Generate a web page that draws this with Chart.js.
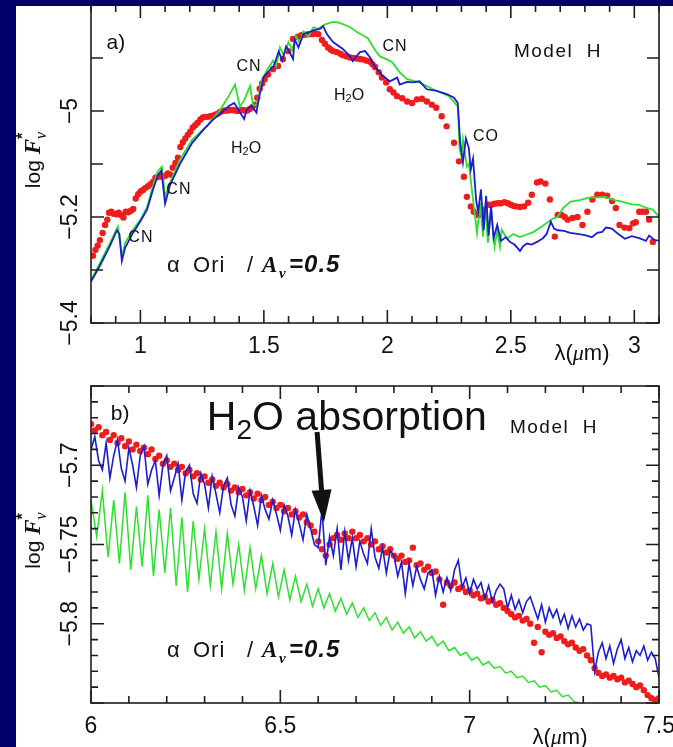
<!DOCTYPE html>
<html>
<head>
<meta charset="utf-8">
<script src="https://cdn.jsdelivr.net/npm/chart.js@4"></script>
<style>
    html, body { margin: 0; padding: 0; }
    body { width: 673px; height: 747px; background: #000068; position: relative; overflow: hidden; }
    #sheet { position: absolute; left: 16px; top: 5px; width: 657px; height: 742px; background: #fff; }
    .panel { position: absolute; left: 16px; width: 657px; }
    #wrapA { top: 0; height: 370px; }
    #wrapB { top: 370px; height: 377px; }
    #band { position: absolute; left: 0; top: 0; width: 673px; height: 6px; background: #000068; z-index: 5; }
</style>
</head>
<body>
<div id="sheet"></div>
<div class="panel" id="wrapA"><canvas id="chartA"></canvas></div>
<div class="panel" id="wrapB"><canvas id="chartB"></canvas></div>
<div id="band"></div>
<script>
// ---------- panel a) 0.8 - 3.1 micron ----------
const aGreenX = [0.80, 0.836, 0.877, 0.909, 0.925, 0.938, 0.97, 1.00, 1.027, 1.05, 1.07, 1.087, 1.10, 1.12, 1.16, 1.21, 1.27, 1.32, 1.36, 1.383,
    1.403, 1.42, 1.444, 1.456, 1.472, 1.49, 1.51, 1.537, 1.55, 1.565, 1.58, 1.60, 1.615, 1.63, 1.645, 1.66, 1.68, 1.70, 1.72, 1.75,
    1.78, 1.80, 1.82, 1.85, 1.88, 1.92, 1.95, 1.97, 2.00, 2.02, 2.05, 2.08, 2.13, 2.185, 2.25, 2.286, 2.292, 2.30, 2.306, 2.322,
    2.33, 2.347, 2.363, 2.376, 2.387, 2.397, 2.407, 2.42, 2.434, 2.445, 2.456, 2.463, 2.484, 2.51, 2.537, 2.565, 2.593, 2.634, 2.67, 2.69,
    2.711, 2.743, 2.78, 2.812, 2.85, 2.88, 2.92, 2.95, 2.99, 3.019, 3.05, 3.075, 3.10];
const aGreenY = [-5.319, -5.287, -5.249, -5.218, -5.275, -5.249, -5.224, -5.205, -5.181, -5.143, -5.114, -5.105, -5.162, -5.135, -5.092, -5.054, -5.028, -5.000, -4.970, -4.950,
    -4.992, -4.980, -4.953, -4.988, -4.990, -4.946, -4.925, -4.905, -4.915, -4.880, -4.895, -4.870, -4.885, -4.858, -4.872, -4.850, -4.860, -4.842, -4.845, -4.836,
    -4.832, -4.833, -4.836, -4.842, -4.852, -4.862, -4.885, -4.897, -4.903, -4.908, -4.927, -4.940, -4.946, -4.959, -4.972, -4.992, -5.070, -5.086, -5.054, -5.105,
    -5.100, -5.167, -5.230, -5.173, -5.237, -5.180, -5.249, -5.185, -5.256, -5.225, -5.256, -5.224, -5.241, -5.232, -5.238, -5.233, -5.228, -5.215, -5.203, -5.200,
    -5.183, -5.171, -5.168, -5.164, -5.163, -5.162, -5.168, -5.171, -5.176, -5.177, -5.183, -5.186, -5.200];

const aBlueX = [0.80, 0.836, 0.877, 0.905, 0.915, 0.925, 0.938, 0.97, 1.00, 1.027, 1.05, 1.07, 1.085, 1.10, 1.12, 1.16, 1.21, 1.25, 1.29, 1.33,
    1.36, 1.38, 1.40, 1.42, 1.43, 1.45, 1.47, 1.48, 1.50, 1.52, 1.54, 1.56, 1.575, 1.59, 1.60, 1.618, 1.625, 1.64, 1.66, 1.68,
    1.70, 1.727, 1.74, 1.755, 1.78, 1.82, 1.849, 1.86, 1.889, 1.91, 1.93, 1.95, 1.982, 2.01, 2.04, 2.05, 2.08, 2.104, 2.13, 2.16,
    2.20, 2.24, 2.27, 2.285, 2.295, 2.306, 2.318, 2.33, 2.338, 2.347, 2.36, 2.368, 2.379, 2.39, 2.40, 2.41, 2.42, 2.43, 2.445, 2.46,
    2.48, 2.496, 2.515, 2.537, 2.55, 2.565, 2.585, 2.606, 2.63, 2.645, 2.662, 2.675, 2.69, 2.716, 2.74, 2.77, 2.80, 2.828, 2.85, 2.87,
    2.885, 2.909, 2.935, 2.962, 2.99, 3.02, 3.047, 3.06, 3.08, 3.10];
const aBlueY = [-5.322, -5.292, -5.254, -5.225, -5.232, -5.283, -5.258, -5.230, -5.208, -5.186, -5.150, -5.122, -5.112, -5.175, -5.140, -5.100, -5.060, -5.038, -5.018, -5.002,
    -4.990, -4.985, -5.000, -5.015, -4.998, -4.990, -5.003, -4.975, -4.935, -4.925, -4.915, -4.888, -4.905, -4.878, -4.885, -4.902, -4.865, -4.880, -4.855, -4.852,
    -4.848, -4.845, -4.840, -4.855, -4.870, -4.883, -4.897, -4.906, -4.889, -4.887, -4.899, -4.917, -4.934, -4.944, -4.937, -4.950, -4.945, -4.946, -4.944, -4.959,
    -4.962, -4.968, -4.975, -4.985, -5.060, -5.097, -5.052, -5.070, -5.110, -5.090, -5.170, -5.190, -5.148, -5.225, -5.160, -5.235, -5.180, -5.240, -5.215, -5.245,
    -5.238, -5.247, -5.252, -5.264, -5.255, -5.250, -5.252, -5.247, -5.240, -5.232, -5.209, -5.222, -5.225, -5.226, -5.230, -5.232, -5.234, -5.238, -5.230, -5.228,
    -5.220, -5.222, -5.232, -5.241, -5.236, -5.240, -5.245, -5.235, -5.243, -5.245];

// observed alpha Ori points
const aRedX = [0.808, 0.818, 0.827, 0.836, 0.847, 0.857, 0.866, 0.873, 0.882, 0.892, 0.902, 0.912, 0.921, 0.931, 0.941, 0.951, 0.961, 0.971, 0.981, 0.991,
    1.001, 1.011, 1.021, 1.031, 1.041, 1.051, 1.061, 1.071, 1.081, 1.091, 1.101, 1.111, 1.121, 1.131, 1.142, 1.152, 1.162, 1.172, 1.182, 1.192,
    1.202, 1.212, 1.222, 1.232, 1.243, 1.253, 1.263, 1.273, 1.283, 1.293, 1.303, 1.313, 1.323, 1.333, 1.343, 1.353, 1.363, 1.373, 1.383, 1.393,
    1.403, 1.413, 1.423, 1.433, 1.443, 1.453, 1.463, 1.473, 1.483, 1.493, 1.503, 1.517, 1.537, 1.557, 1.577, 1.598, 1.618, 1.638, 1.652, 1.666,
    1.680, 1.695, 1.708, 1.72, 1.735, 1.747, 1.76, 1.77, 1.78, 1.796, 1.81, 1.82, 1.835, 1.849, 1.862, 1.876, 1.89, 1.903, 1.916, 1.93,
    1.94, 1.95, 1.965, 1.978, 1.995, 2.01, 2.025, 2.039, 2.06, 2.08, 2.10, 2.12, 2.14, 2.16, 2.18, 2.198, 2.22, 2.24, 2.27, 2.29,
    2.31, 2.322, 2.338, 2.35, 2.366, 2.38, 2.394, 2.407, 2.42, 2.434, 2.448, 2.46, 2.474, 2.488, 2.50, 2.51, 2.52, 2.537, 2.553, 2.57,
    2.585, 2.606, 2.62, 2.64, 2.658, 2.678, 2.69, 2.705, 2.718, 2.73, 2.75, 2.77, 2.79, 2.81, 2.83, 2.85, 2.87, 2.89, 2.91, 2.925,
    2.94, 2.96, 2.98, 2.995, 3.006, 3.02, 3.033, 3.047, 3.06, 3.075];
const aRedY = [-5.273, -5.262, -5.254, -5.244, -5.230, -5.215, -5.205, -5.192, -5.190, -5.194, -5.195, -5.192, -5.196, -5.201, -5.190, -5.191, -5.188, -5.185, -5.165, -5.157,
    -5.152, -5.149, -5.145, -5.142, -5.138, -5.134, -5.126, -5.124, -5.123, -5.124, -5.122, -5.118, -5.120, -5.107, -5.098, -5.088, -5.068, -5.059, -5.052, -5.045,
    -5.039, -5.031, -5.027, -5.022, -5.016, -5.012, -5.011, -5.011, -5.010, -5.009, -5.007, -5.005, -5.002, -5.000, -4.999, -4.999, -4.998, -4.998, -4.999, -5.000,
    -4.999, -4.998, -4.999, -4.999, -4.996, -4.993, -4.988, -4.975, -4.958, -4.948, -4.940, -4.931, -4.921, -4.915, -4.902, -4.887, -4.864, -4.860, -4.857, -4.856,
    -4.855, -4.855, -4.854, -4.855, -4.866, -4.873, -4.880, -4.884, -4.887, -4.889, -4.892, -4.895, -4.897, -4.899, -4.900, -4.901, -4.902, -4.903, -4.905, -4.907,
    -4.912, -4.917, -4.927, -4.937, -4.946, -4.959, -4.965, -4.972, -4.976, -4.982, -4.985, -4.978, -4.977, -4.982, -4.988, -4.994, -5.010, -5.029, -5.060, -5.095,
    -5.124, -5.162, -5.180, -5.190, -5.196, -5.196, -5.186, -5.177, -5.177, -5.175, -5.174, -5.174, -5.172, -5.174, -5.177, -5.179, -5.180, -5.181, -5.180, -5.173,
    -5.158, -5.135, -5.133, -5.137, -5.167, -5.237, -5.196, -5.196, -5.200, -5.205, -5.202, -5.200, -5.215, -5.190, -5.167, -5.158, -5.158, -5.160, -5.170, -5.183,
    -5.215, -5.220, -5.221, -5.212, -5.210, -5.190, -5.190, -5.190, -5.205, -5.247];

// ---------- panel b) 6 - 7.5 micron, sampled every 0.01 ----------
const bStart = 6.0, bStep = 0.01;
const bRedY = [
    -5.674, -5.678, -5.676, -5.681, -5.679, -5.684, -5.681, -5.686, -5.683, -5.688,
    -5.685, -5.690, -5.687, -5.691, -5.689, -5.693, -5.690, -5.696, -5.694, -5.699,
    -5.697, -5.701, -5.699, -5.703, -5.701, -5.705, -5.703, -5.707, -5.705, -5.709,
    -5.707, -5.711, -5.709, -5.713, -5.711, -5.714, -5.712, -5.716, -5.714, -5.717,
    -5.715, -5.719, -5.717, -5.721, -5.718, -5.722, -5.720, -5.725, -5.723, -5.727,
    -5.725, -5.729, -5.727, -5.731, -5.729, -5.733, -5.731, -5.736, -5.738, -5.742,
    -5.748, -5.753, -5.757, -5.750, -5.746, -5.744, -5.747, -5.743, -5.746, -5.742,
    -5.746, -5.744, -5.748, -5.746, -5.750, -5.748, -5.753, -5.751, -5.755, -5.753,
    -5.757, -5.759, -5.757, -5.761, -5.760, -5.752, -5.763, -5.762, -5.766, -5.764,
    -5.768, -5.767, -5.772, -5.788, -5.774, -5.776, -5.774, -5.778, -5.777, -5.780,
    -5.779, -5.782, -5.781, -5.784, -5.783, -5.786, -5.785, -5.788, -5.787, -5.790,
    -5.792, -5.794, -5.796, -5.795, -5.798, -5.797, -5.800, -5.812, -5.802, -5.818,
    -5.805, -5.807, -5.806, -5.809, -5.808, -5.811, -5.813, -5.812, -5.815, -5.817,
    -5.816, -5.820, -5.823, -5.828, -5.831, -5.833, -5.832, -5.834, -5.833, -5.835,
    -5.834, -5.837, -5.836, -5.838, -5.840, -5.839, -5.842, -5.845, -5.847, -5.848,
    -5.847];
const bBlueY = [
    -5.690, -5.682, -5.697, -5.703, -5.686, -5.708, -5.694, -5.684, -5.702, -5.710,
    -5.689, -5.700, -5.714, -5.694, -5.688, -5.712, -5.703, -5.697, -5.719, -5.700,
    -5.694, -5.716, -5.708, -5.699, -5.722, -5.704, -5.700, -5.718, -5.724, -5.705,
    -5.712, -5.727, -5.707, -5.718, -5.730, -5.713, -5.708, -5.725, -5.732, -5.714,
    -5.720, -5.735, -5.716, -5.726, -5.738, -5.719, -5.728, -5.734, -5.722, -5.731,
    -5.741, -5.725, -5.732, -5.744, -5.728, -5.737, -5.747, -5.731, -5.740, -5.750,
    -5.752, -5.728, -5.763, -5.745, -5.757, -5.740, -5.766, -5.742, -5.760, -5.746,
    -5.764, -5.748, -5.756, -5.762, -5.740, -5.758, -5.765, -5.752, -5.768, -5.754,
    -5.757, -5.770, -5.761, -5.781, -5.762, -5.776, -5.764, -5.772, -5.778, -5.768,
    -5.766, -5.782, -5.770, -5.780, -5.771, -5.779, -5.766, -5.760, -5.777, -5.771,
    -5.781, -5.772, -5.778, -5.774, -5.784, -5.776, -5.786, -5.779, -5.775, -5.778,
    -5.790, -5.782, -5.791, -5.785, -5.793, -5.786, -5.783, -5.790, -5.797, -5.788,
    -5.799, -5.790, -5.796, -5.791, -5.800, -5.794, -5.803, -5.795, -5.802, -5.797,
    -5.804, -5.800, -5.801, -5.830, -5.818, -5.812, -5.822, -5.814, -5.825, -5.816,
    -5.810, -5.822, -5.815, -5.824, -5.817, -5.820, -5.814, -5.823, -5.818, -5.822,
    -5.834];
// green model sampled every 0.015 (peaks / troughs of the wiggles)
const bGreenStart = 6.0, bGreenStep = 0.015;
const bGreenY = [
    -5.722, -5.745, -5.716, -5.758, -5.722, -5.762, -5.717, -5.766, -5.726, -5.764,
    -5.719, -5.770, -5.728, -5.768, -5.727, -5.776, -5.733, -5.780, -5.735, -5.772,
    -5.740, -5.776, -5.742, -5.778, -5.743, -5.775, -5.750, -5.779, -5.752, -5.778,
    -5.757, -5.781, -5.762, -5.783, -5.766, -5.785, -5.770, -5.786, -5.775, -5.789,
    -5.778, -5.790, -5.781, -5.792, -5.784, -5.794, -5.787, -5.796, -5.790, -5.798,
    -5.793, -5.801, -5.796, -5.804, -5.799, -5.806, -5.802, -5.809, -5.805, -5.811,
    -5.808, -5.814, -5.811, -5.817, -5.815, -5.820, -5.818, -5.823, -5.821, -5.826,
    -5.824, -5.828, -5.827, -5.831, -5.830, -5.834, -5.833, -5.837, -5.836, -5.840,
    -5.839, -5.843, -5.842, -5.846, -5.845, -5.849, -5.850, -5.853];

// tick labels
const aXTicks = [1, 1.5, 2, 2.5, 3];
const aYTicks = [-5, -5.2, -5.4];
const bXTicks = [6, 6.5, 7, 7.5];
const bYTicks = [-5.7, -5.75, -5.8];

const RED = '#f01c1c', BLUE = '#1c1cd0', GREEN = '#2ee02e', INK = '#111';
const SANS = '"Liberation Sans", Arial, Helvetica, sans-serif';
const SERIF = '"Liberation Serif", "Times New Roman", serif';

const toPoints = (xs, ys) => ys.map((y, i) => ({ x: xs[i], y: y }));
const gridPoints = (start, step, ys) => ys.map((y, i) => ({ x: +(start + i * step).toFixed(3), y: y }));
const fmt = v => String(v).replace('-', '\u2212');

function lineSet(label, data, color, width) {
    return { label, data, showLine: true, borderColor: color, borderWidth: width, pointRadius: 0, fill: false, tension: 0 };
}
function dotSet(label, data, color, r) {
    return { label, data, showLine: false, pointRadius: r, pointBackgroundColor: color, backgroundColor: color, pointBorderWidth: 0, borderWidth: 0 };
}

function textAt(ctx, s, x, y, font, align, spacing) {
    ctx.font = font;
    ctx.letterSpacing = (spacing || 0) + 'px';
    ctx.textAlign = align || 'left';
    ctx.fillText(s, x, y);
    ctx.letterSpacing = '0px';
}

// runs: [text, font, dy, advance]
function richText(ctx, runs, x, y, align) {
    ctx.textAlign = 'left';
    let w = 0;
    runs.forEach(r => { ctx.font = r[1]; if (r[3] !== false) w += ctx.measureText(r[0]).width; });
    let cx = align === 'center' ? x - w / 2 : x;
    runs.forEach(r => {
        ctx.font = r[1];
        ctx.fillText(r[0], cx, y + (r[2] || 0));
        if (r[3] !== false) cx += ctx.measureText(r[0]).width;
    });
}

function eachTick(min, max, minor, major, fn) {
    const k0 = Math.ceil(min / minor - 1e-6), k1 = Math.floor(max / minor + 1e-6);
    for (let k = k0; k <= k1; k++) {
        const v = k * minor, r = v / major;
        fn(v, Math.abs(r - Math.round(r)) < 1e-6);
    }
}

const h2o = size => [['H', size + 'px ' + SANS], ['2', Math.round(size * 0.68) + 'px ' + SANS, Math.round(size * 0.22)], ['O', size + 'px ' + SANS]];

function drawAlphaOri(ctx, x, y) {
    textAt(ctx, '\u03b1', x, y, '22px ' + SANS);
    textAt(ctx, 'Ori', x + 26, y, '22px ' + SANS, 'left', 1);
    textAt(ctx, '/', x + 80, y, '22px ' + SANS);
    textAt(ctx, 'A', x + 95, y, 'bold italic 23px ' + SERIF);
    textAt(ctx, 'v', x + 112, y + 6, 'bold italic 15px ' + SERIF);
    textAt(ctx, '=0.5', x + 122, y, 'bold italic 24px ' + SANS, 'left', 1);
}

// frame, inward ticks, tick labels and annotations of one panel
function makeDeco(cfg) {
    return {
        id: 'deco_' + cfg.name,
        afterDraw(chart) {
            const { ctx, chartArea: a } = chart;
            const sx = chart.scales.x, sy = chart.scales.y;
            const px = v => sx.getPixelForValue(v), py = v => sy.getPixelForValue(v);
            ctx.save();
            ctx.strokeStyle = '#1e1e1e';
            ctx.fillStyle = INK;
            ctx.lineWidth = 1.6;
            ctx.strokeRect(a.left, a.top, a.right - a.left, a.bottom - a.top);
            ctx.beginPath();
            eachTick(sx.min, sx.max, cfg.xMinor, cfg.xMajor, (v, major) => {
                const p = px(v), len = major ? 13 : 7;
                ctx.moveTo(p, a.bottom); ctx.lineTo(p, a.bottom - len);
                ctx.moveTo(p, a.top); ctx.lineTo(p, a.top + len);
            });
            eachTick(sy.min, sy.max, cfg.yMinor, cfg.yMajor, (v, major) => {
                const p = py(v), len = major ? 13 : cfg.yMinorLen;
                ctx.moveTo(a.left, p); ctx.lineTo(a.left + len, p);
                ctx.moveTo(a.right, p); ctx.lineTo(a.right - len, p);
            });
            ctx.stroke();

            // x tick labels
            ctx.textBaseline = 'top';
            cfg.xTicks.forEach(v => textAt(ctx, fmt(v), px(v), a.bottom + 12, '23px ' + SANS, 'center'));
            ctx.textBaseline = 'alphabetic';
            // y tick labels, rotated
            cfg.yTicks.forEach(v => {
                ctx.save();
                ctx.translate(a.left - 14, py(v));
                ctx.rotate(-Math.PI / 2);
                textAt(ctx, fmt(v), 0, 0, '23px ' + SANS, 'center');
                ctx.restore();
            });
            // y title: log F*nu
            ctx.save();
            ctx.translate(a.left - 51, (a.top + a.bottom) / 2 - 4);
            ctx.rotate(-Math.PI / 2);
            richText(ctx, [['log ', '21px ' + SANS], ['F', 'bold italic 23px ' + SERIF],
                ['*', 'bold 16px ' + SANS, -12, false], ['\u03bd', 'italic 16px ' + SERIF, 6]], 0, 0, 'center');
            ctx.restore();
            // x title
            richText(ctx, [['\u03bb(', '22px ' + SANS], ['\u03bc', 'italic 22px ' + SERIF], ['m)', '22px ' + SANS]],
                cfg.lamX, a.bottom + cfg.lamDy, 'center');

            // labels inside the plot (data coordinates)
            ctx.textBaseline = 'middle';
            textAt(ctx, cfg.tag, px(cfg.tagAt[0]), py(cfg.tagAt[1]), '21px ' + SANS, 'center');
            textAt(ctx, 'Model  H', px(cfg.modelAt[0]), py(cfg.modelAt[1]), '19px ' + SANS, 'center', 1.5);
            (cfg.marks || []).forEach(m => {
                if (m[0] === 'H2O') richText(ctx, h2o(16), px(m[1]), py(m[2]), 'center');
                else textAt(ctx, m[0], px(m[1]), py(m[2]), '16px ' + SANS, 'center', 1);
            });
            ctx.textBaseline = 'alphabetic';
            drawAlphaOri(ctx, px(cfg.oriAt[0]), py(cfg.oriAt[1]));

            if (cfg.arrow) {
                const A = cfg.arrow;
                richText(ctx, h2o(41).concat([[' absorption', '41px ' + SANS]]), px(A.textAt[0]), py(A.textAt[1]), 'left');
                const x0 = px(A.from[0]), y0 = py(A.from[1]), x1 = px(A.to[0]), y1 = py(A.to[1]);
                const ang = Math.atan2(y1 - y0, x1 - x0), head = 32, half = 10;
                const bx = x1 - head * Math.cos(ang), by = y1 - head * Math.sin(ang);
                ctx.strokeStyle = INK;
                ctx.lineWidth = 5;
                ctx.beginPath(); ctx.moveTo(x0, y0); ctx.lineTo(bx, by); ctx.stroke();
                ctx.beginPath();
                ctx.moveTo(x1, y1);
                ctx.lineTo(bx + half * Math.sin(ang), by - half * Math.cos(ang));
                ctx.lineTo(bx - half * Math.sin(ang), by + half * Math.cos(ang));
                ctx.closePath(); ctx.fill();
            }
            ctx.restore();
        }
    };
}

function makeChart(canvasId, datasets, xr, yr, padding, deco) {
    const ctx = document.getElementById(canvasId).getContext('2d');
    return new Chart(ctx, {
        type: 'scatter',
        data: { datasets },
        options: {
            responsive: true,
            maintainAspectRatio: false,
            animation: false,
            layout: { padding },
            plugins: { legend: { display: false }, tooltip: { enabled: false } },
            scales: {
                x: { type: 'linear', min: xr[0], max: xr[1], display: false },
                y: { type: 'linear', min: yr[0], max: yr[1], display: false }
            }
        },
        plugins: [deco]
    });
}

makeChart('chartA', [
    lineSet('Model H (blue)', toPoints(aBlueX, aBlueY), BLUE, 1.8),
    lineSet('Model H (green)', toPoints(aGreenX, aGreenY), GREEN, 1.8),
    dotSet('alpha Ori', toPoints(aRedX, aRedY), RED, 3.2)
], [0.8, 3.1], [-5.4, -4.8], { left: 75, right: 14, top: 5, bottom: 47 }, makeDeco({
    name: 'a', xMinor: 0.1, xMajor: 0.5, yMinor: 0.1, yMajor: 0.2, yMinorLen: 12,
    xTicks: aXTicks, yTicks: aYTicks, lamX: 566, lamDy: 37,
    tag: 'a)', tagAt: [0.901, -4.872], modelAt: [2.691, -4.889],
    marks: [['CN', 1.002, -5.238], ['CN', 1.156, -5.149], ['H2O', 1.428, -5.070], ['CN', 1.440, -4.917],
        ['H2O', 1.845, -4.970], ['CN', 2.031, -4.879], ['CO', 2.399, -5.049]],
    oriAt: [1.108, -5.304]
}));

makeChart('chartB', [
    lineSet('Model H (blue)', gridPoints(bStart, bStep, bBlueY), BLUE, 1.6),
    lineSet('Model H (green)', gridPoints(bGreenStart, bGreenStep, bGreenY), GREEN, 1.5),
    dotSet('alpha Ori', gridPoints(bStart, bStep, bRedY), RED, 3.2)
], [6, 7.5], [-5.85, -5.65], { left: 75, right: 14, top: 16, bottom: 44 }, makeDeco({
    name: 'b', xMinor: 0.1, xMajor: 0.5, yMinor: 0.01, yMajor: 0.05, yMinorLen: 7,
    xTicks: bXTicks, yTicks: bYTicks, lamX: 544, lamDy: 41,
    tag: 'b)', tagAt: [6.077, -5.6677], modelAt: [7.2226, -5.6765],
    oriAt: [6.2007, -5.821],
    arrow: { textAt: [6.306, -5.6778], from: [6.597, -5.679], to: [6.6153, -5.7358] }
}));
</script>
</body>
</html>
